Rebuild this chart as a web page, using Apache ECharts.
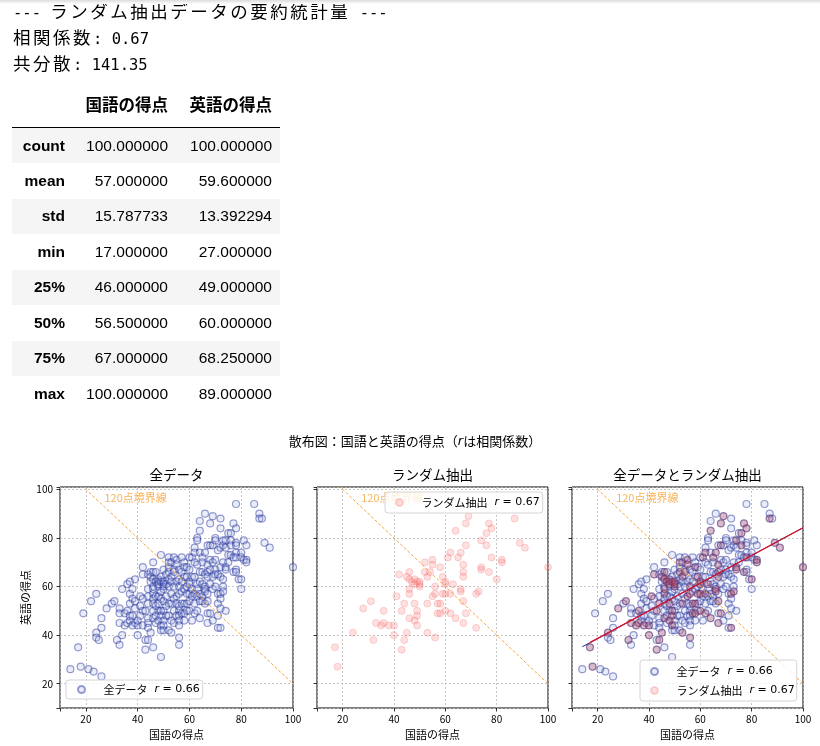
<!DOCTYPE html>
<html>
<head>
<meta charset="utf-8">
<script src="https://cdn.jsdelivr.net/npm/echarts@6/dist/echarts.min.js"></script>
<style>
  html, body { margin: 0; padding: 0; background: #fff; }
  body { width: 820px; height: 746px; position: relative; overflow: hidden; }
  #chart { position: absolute; left: 0; top: 0; width: 820px; height: 746px; }
  .shade { position: absolute; left: 0; top: 0; width: 820px; height: 4px;
    background: linear-gradient(#dcdcdc, #fff); z-index: 3; }
  #out { position: absolute; left: 13px; top: -1px; margin: 0; z-index: 2;
    line-height: 23px; color: #000; white-space: pre; }
  #out .a { font-family: "DejaVu Sans Mono", monospace; font-size: 15.5px; }
  #out .j { font-family: "Noto Sans CJK JP", sans-serif; font-size: 17.5px; letter-spacing: 2.5px; }
  #stats { position: absolute; left: 12px; top: 88px; z-index: 2; width: 268px;
    border-collapse: collapse; table-layout: fixed;
    font-family: "Liberation Sans", Arial, "Noto Sans CJK JP", sans-serif;
    font-size: 15.5px; color: #000; }
  #stats th, #stats td { text-align: right; padding: 0 8px 0 0; white-space: nowrap; }
  #stats thead th { height: 32px; padding-bottom: 7px; font-size: 16.5px;
    font-family: "Noto Sans CJK JP", sans-serif; font-weight: bold;
    border-bottom: 1px solid #000; vertical-align: middle; }
  #stats tbody tr { height: 35.5px; }
  #stats tbody th { font-weight: bold; }
  #stats tbody tr:nth-child(odd) { background: #f5f5f5; }
</style>
</head>
<body>
<div class="shade"></div>
<pre id="out"></pre>
<table id="stats">
  <colgroup><col style="width:61px"><col style="width:103px"><col style="width:104px"></colgroup>
  <thead><tr id="statsHead"></tr></thead>
  <tbody id="statsBody"></tbody>
</table>
<div id="chart"></div>
<script>
// 出力テキスト
const outLines = ['--- ランダム抽出データの要約統計量 ---', '相関係数: 0.67', '共分散: 141.35']

// 要約統計量の表
const statColumns = ['国語の得点', '英語の得点']
const statNames = ['count', 'mean', 'std', 'min', '25%', '50%', '75%', 'max']
const japaneseStats = ['100.000000', '57.000000', '15.787733', '17.000000', '46.000000', '56.500000', '67.000000', '100.000000']
const englishStats = ['100.000000', '59.600000', '13.392294', '27.000000', '49.000000', '60.000000', '68.250000', '89.000000']

// 全データ [国語, 英語]
const allScores = [
  [14,26],[17,35],[18,27],[19,49],[21,26],[23,25],[26,23],[22,54],[24,57],[24,41],[24,39],[25,38],
  [26,47],[26,43],[28,51],[30,53],[31,54],[32,38],[33,51],[33,49],[33,45],[34,59],[34,40],[33,36],
  [35,49],[35,44],[36,61],[36,45],[36,50],[37,62],[37,57],[37,53],[37,46],[37,48],
  [38,59],[38,55],[38,44],[38,48],[39,63],[39,54],[39,51],[39,45],[40,44],[40,40],[40,46],
  [41,56],[41,52],[41,48],[42,55],[42,50],[42,44],[42,65],[42,68],[43,34],[43,38],[43,50],
  [44,65],[44,59],[44,56],[44,53],[44,47],[44,45],[44,43],[44,38],[45,66],[45,62],[45,64],[45,41],
  [46,70],[46,60],[46,57],[46,55],[46,53],[46,50],[46,47],[46,35],[46,66],[46,63],[46,59],
  [47,66],[47,56],[47,52],[47,48],[47,45],[47,62],
  [48,62],[48,60],[48,56],[48,50],[48,46],[48,63],[48,61],[48,53],
  [49,73],[49,31],[49,62],[49,64],[49,58],[49,55],[49,50],[49,48],[49,44],[49,42],
  [50,67],[50,61],[50,59],[50,54],[50,50],[50,46],[50,44],[50,42],[50,62],[50,60],
  [51,65],[51,61],[51,56],[51,52],[51,48],
  [52,72],[52,68],[52,63],[52,60],[52,53],[52,48],[52,42],[52,70],[52,66],
  [53,70],[53,64],[53,62],[53,57],[53,53],[53,46],[53,41],
  [54,72],[54,67],[54,66],[54,60],[54,55],[54,50],[54,45],
  [55,71],[55,69],[55,62],[55,56],[55,53],[55,48],
  [56,67],[56,63],[56,60],[56,57],[56,52],[56,50],[56,48],[56,46],[56,44],[56,39],[56,36],
  [57,66],[57,62],[57,58],[57,53],[57,49],[57,72],
  [58,70],[58,68],[58,64],[58,59],[58,53],[58,49],[58,46],
  [59,68],[59,64],[59,60],[59,57],[59,53],[59,50],
  [60,72],[60,67],[60,62],[60,61],[60,57],[60,54],[60,50],
  [61,72],[61,64],[61,59],[61,56],[61,46],
  [62,76],[62,74],[62,70],[62,64],[62,57],[62,53],[62,49],
  [63,80],[63,79],[63,69],[63,61],[63,59],[63,56],[63,50],
  [64,87],[64,83],[64,74],[64,66],[64,62],[64,57],[64,54],[64,47],
  [65,72],[65,70],[65,66],[65,61],[65,56],[65,54],
  [66,90],[66,74],[66,65],[66,60],[66,59],[66,58],[66,53],
  [67,77],[67,69],[67,66],[67,64],[67,57],[67,54],[67,49],[67,45],
  [68,86],[68,77],[68,71],[68,67],[68,61],[68,49],
  [69,89],[69,77],[69,70],[69,64],[69,59],[69,46],
  [70,80],[70,79],[70,71],[70,67],[70,65],[70,60],
  [71,75],[71,65],[71,57],[71,53],[71,48],[71,43],
  [72,88],[72,84],[72,76],[72,68],[72,64],[72,57],[72,55],[72,51],[72,43],
  [73,79],[73,77],[73,70],[73,63],[73,60],[73,58],
  [74,79],[74,76],[74,68],[74,67],[74,50],
  [75,82],[75,73],[75,70],[76,82],[76,79],[76,77],[76,73],
  [77,86],[77,72],[77,66],
  [78,94],[78,84],[78,78],[78,77],[78,74],[78,72],[78,67],[78,66],
  [79,63],[80,74],[80,72],[80,63],[80,59],[81,79],[81,71],[82,77],[82,71],[82,70],
  [85,94],[87,90],[87,88],[88,88],[89,78],[91,76],[100,68]
]

// ランダム抽出 (100件) [国語, 英語]
const sampleScores = [
  [17,35],[18,27],[24,41],[28,51],[31,54],[32,38],[33,45],[35,44],[36,45],[36,50],
  [38,44],[40,44],[40,40],[41,56],[42,65],[43,50],[43,34],[44,53],[44,38],[45,41],
  [45,64],[46,66],[46,63],[46,59],[46,57],[46,47],[47,62],[48,63],[48,61],[48,53],
  [48,46],[49,62],[49,50],[49,48],[49,44],[50,62],[50,60],[50,61],[52,70],[52,66],
  [53,64],[54,66],[53,53],[53,41],[55,71],[55,69],[55,56],[56,39],[56,60],[56,57],
  [57,49],[57,53],[58,49],[58,68],[58,53],[59,64],[59,57],[60,62],[60,61],[60,57],
  [60,50],[61,72],[62,74],[62,57],[62,49],[63,61],[64,47],[64,83],[65,72],[66,74],
  [66,59],[66,58],[67,69],[67,66],[67,64],[67,54],[67,45],[68,86],[68,77],[68,49],
  [69,89],[72,57],[72,43],[73,58],[74,79],[74,68],[74,67],[76,82],[76,77],[77,86],
  [78,84],[77,66],[78,72],[80,63],[82,70],[82,71],[87,88],[89,78],[91,76],[100,68]
]

// 120点境界線 (国語 + 英語 = 120)
const boundaryLine = [[0, 120], [120, 0]]
const boundaryLabelAt = [27, 96.4]

// 回帰直線
const fullFitLine = [[14, 35.2], [100, 84.2]]
const sampleFitLine = [[17, 36.9], [100, 84.2]]

const corrAll = '0.66'
const corrSample = '0.67'
const tickValues = [20, 40, 60, 80, 100]

// テキスト (半角と全角で別のフォント)
const esc = s => s.replace(/&/g, '&amp;').replace(/</g, '&lt;')
document.getElementById('out').innerHTML = outLines.map(line =>
  line.split(/([\x00-\x7f]+)/).filter(s => s).map(s =>
    '<span class="' + (/^[\x00-\x7f]+$/.test(s) ? 'a' : 'j') + '">' + esc(s) + '</span>'
  ).join('')
).join('\n')

// 表
document.getElementById('statsHead').innerHTML =
  '<th></th>' + statColumns.map(c => '<th>' + c + '</th>').join('')
document.getElementById('statsBody').innerHTML = statNames.map((n, i) =>
  '<tr><th>' + n + '</th><td>' + japaneseStats[i] + '</td><td>' + englishStats[i] + '</td></tr>'
).join('')

const jpFont = 'Noto Sans CJK JP'
const grids = [
  { left: 60, top: 487, width: 233, height: 221 },
  { left: 317, top: 487, width: 231, height: 221 },
  { left: 572, top: 487, width: 231, height: 221 },
]
const panelTitles = ['全データ', 'ランダム抽出', '全データとランダム抽出']
const corrByName = { '全データ': corrAll, 'ランダム抽出': corrSample }

const splitStyle = { color: '#b8b8b8', width: 0.8, type: [2, 2] }
const tickLabel = v => (tickValues.includes(v) ? String(v) : '')

const xAxes = grids.map((g, i) => ({
  type: 'value', gridIndex: i, min: 10, max: 100, splitNumber: 5,
  name: '国語の得点', nameLocation: 'middle', nameGap: 21,
  nameTextStyle: { fontSize: 11, color: '#000', fontFamily: jpFont },
  axisLine: { show: false },
  axisTick: { show: true, length: 3.5, lineStyle: { color: '#000', width: 0.8 } },
  axisLabel: { fontSize: 10, color: '#000', margin: 6, fontFamily: jpFont, formatter: tickLabel },
  splitLine: { show: true, lineStyle: splitStyle },
}))
const yAxes = grids.map((g, i) => ({
  type: 'value', gridIndex: i, min: 10, max: 101, splitNumber: 5,
  name: i === 0 ? '英語の得点' : '', nameLocation: 'middle', nameGap: 29,
  nameTextStyle: { fontSize: 11, color: '#000', fontFamily: jpFont },
  axisLine: { show: false },
  axisTick: { show: true, length: 3.5, lineStyle: { color: '#000', width: 0.8 } },
  axisLabel: { show: i === 0, fontSize: 10, color: '#000', margin: 7, fontFamily: jpFont, formatter: tickLabel },
  splitLine: { show: true, lineStyle: splitStyle },
}))

const fullStyle = { color: 'rgba(165,180,232,0.3)', borderColor: 'rgba(22,34,145,0.55)', borderWidth: 1.2 }
const sampleStyle = { color: 'rgba(248,105,105,0.26)', borderColor: 'rgba(240,95,95,0.3)', borderWidth: 1 }
// 全データと重なる抽出点は赤紫に見える
const overlapStyle = { color: 'rgba(175,65,90,0.36)', borderColor: 'rgba(135,35,65,0.36)', borderWidth: 1 }

function scatter(name, data, i, style) {
  return { name, type: 'scatter', xAxisIndex: i, yAxisIndex: i, data,
    symbolSize: 7, itemStyle: style, clip: true, silent: true }
}
function boundary(i) {
  return [
    { type: 'line', xAxisIndex: i, yAxisIndex: i, data: boundaryLine, symbol: 'none', silent: true,
      clip: true, lineStyle: { color: '#f6a33b', width: 1, type: [3, 2] } },
    { type: 'scatter', xAxisIndex: i, yAxisIndex: i, data: [boundaryLabelAt], symbolSize: 1,
      silent: true, itemStyle: { color: 'rgba(0,0,0,0)' },
      label: { show: true, position: 'right', distance: 0, formatter: '120点境界線',
        color: '#f5a034', fontSize: 11, fontFamily: jpFont } },
  ]
}
function fitLine(data, color, width) {
  return { type: 'line', xAxisIndex: 2, yAxisIndex: 2, data, symbol: 'none', silent: true,
    lineStyle: { color, width } }
}

const series = [
  scatter('全データ', allScores, 0, fullStyle),
  ...boundary(0),
  scatter('ランダム抽出', sampleScores, 1, sampleStyle),
  ...boundary(1),
  scatter('全データ', allScores, 2, fullStyle),
  scatter('ランダム抽出', sampleScores, 2, overlapStyle),
  ...boundary(2),
  fitLine(fullFitLine, '#1b2a8c', 1),
  fitLine(sampleFitLine, '#d9142b', 1.3),
]

const legendBase = {
  itemWidth: 28, itemHeight: 7, itemGap: 8,
  backgroundColor: 'rgba(255,255,255,0.8)', borderColor: '#d4d4d4', borderWidth: 1, borderRadius: 3,
  formatter: name => name + '{m|  }{i|r}{m| = ' + corrByName[name] + '}',
  textStyle: { fontSize: 11, color: '#000', fontFamily: jpFont, padding: [0, 0, 0, 3],
    rich: {
      i: { fontStyle: 'italic', fontSize: 11, fontFamily: 'DejaVu Sans', color: '#000' },
      m: { fontSize: 11, fontFamily: 'DejaVu Sans', color: '#000' },
    } },
  selectedMode: false,
}

const chart = echarts.init(document.getElementById('chart'))
chart.setOption({
  animation: false,
  backgroundColor: 'transparent',
  title: [
    { text: '散布図：国語と英語の得点（{i|r}は相関係数）', left: 415, top: 435, textAlign: 'center', padding: 0,
      textStyle: { fontSize: 13, fontWeight: 'normal', color: '#000', fontFamily: jpFont,
        rich: { i: { fontStyle: 'italic', fontSize: 13, fontFamily: 'DejaVu Sans', color: '#000' } } } },
    ...grids.map((g, i) => ({
      text: panelTitles[i], left: g.left + g.width / 2, top: 468, textAlign: 'center', padding: 0,
      textStyle: { fontSize: 13.5, fontWeight: 'normal', color: '#000', fontFamily: jpFont },
    })),
  ],
  grid: grids.map(g => ({ ...g, show: true, borderColor: '#000', borderWidth: 1, backgroundColor: 'transparent' })),
  xAxis: xAxes,
  yAxis: yAxes,
  legend: [
    { ...legendBase, data: ['全データ'], left: 66, top: 680, padding: [4, 3, 4, 11] },
    { ...legendBase, data: ['ランダム抽出'], left: 385, top: 492, padding: [5, 3, 5, 10] },
    { ...legendBase, data: ['全データ', 'ランダム抽出'], orient: 'vertical', left: 640, top: 660,
      padding: [6, 2, 5, 10] },
  ],
  series,
})
</script>
</body>
</html>
